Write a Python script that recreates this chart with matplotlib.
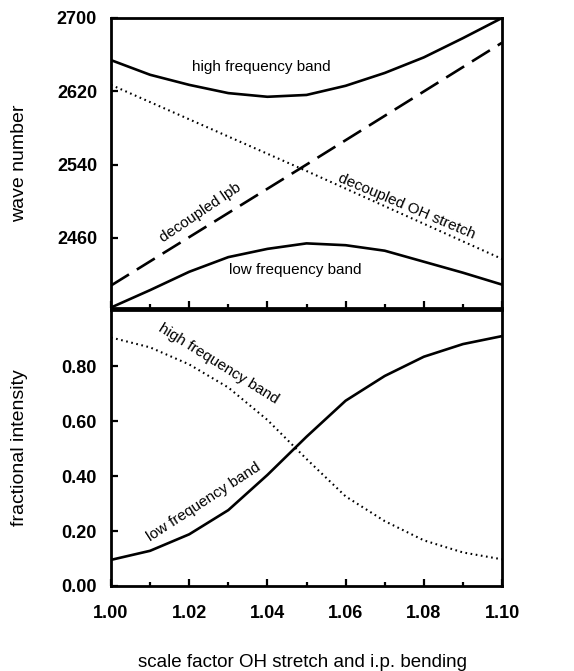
import matplotlib.pyplot as plt
from matplotlib.ticker import MultipleLocator

plt.rcParams['font.family'] = ['Liberation Sans', 'DejaVu Sans']

# scale factor
scale = [1.00, 1.01, 1.02, 1.03, 1.04, 1.05, 1.06, 1.07, 1.08, 1.09, 1.10]

# wave numbers (top panel)
high_band = [2654, 2638, 2627, 2618, 2614, 2616, 2626, 2640, 2657, 2678, 2700]
low_band = [2384, 2403, 2423, 2439, 2448, 2454, 2452, 2446, 2434, 2422, 2409]
lpb_x = [1.00, 1.05, 1.10]
lpb = [2408, 2540, 2673]
oh_x = [1.00, 1.05, 1.10]
oh_stretch = [2627, 2533, 2437]

# fractional intensities (bottom panel)
int_low = [0.095, 0.128, 0.188, 0.276, 0.404, 0.543, 0.674, 0.764, 0.834, 0.880, 0.909]
int_high = [0.904, 0.868, 0.806, 0.722, 0.604, 0.462, 0.326, 0.236, 0.166, 0.122, 0.097]

fig = plt.figure(figsize=(5.74, 6.71), dpi=100)
ax1 = fig.add_axes([0.1934, 0.5417, 0.6812, 0.4315])
ax2 = fig.add_axes([0.1934, 0.1267, 0.6812, 0.4113])

lw = 1.9
dots = (0.8, 1.7)
ax1.plot(scale, high_band, color='black', lw=lw)
ax1.plot(scale, low_band, color='black', lw=lw)
ax1.plot(lpb_x, lpb, color='black', lw=lw, dashes=(8, 3.5))
ax1.plot(oh_x, oh_stretch, color='black', lw=1.5, dashes=dots)

ax2.plot(scale, int_low, color='black', lw=lw)
ax2.plot(scale, int_high, color='black', lw=1.5, dashes=dots)

ax1.set_xlim(1.0, 1.1)
ax1.set_ylim(2384, 2700)
ax2.set_xlim(1.0, 1.1)
ax2.set_ylim(0, 1.004)

ax1.set_yticks([2460, 2540, 2620, 2700])
ax2.set_yticks([0.0, 0.2, 0.4, 0.6, 0.8])
ax2.set_yticklabels(['0.00', '0.20', '0.40', '0.60', '0.80'])

for ax in (ax1, ax2):
    ax.xaxis.set_major_locator(MultipleLocator(0.02))
    ax.xaxis.set_minor_locator(MultipleLocator(0.01))
    ax.tick_params(axis='both', which='both', direction='in', width=1.6,
                   top=False, right=False)
    ax.tick_params(axis='both', which='major', length=5)
    ax.tick_params(axis='x', which='minor', length=3)
    ax.tick_params(axis='y', labelsize=13, pad=10)
    ax.tick_params(axis='x', labelsize=13, pad=14)
    for lbl in ax.get_yticklabels():
        lbl.set_fontweight('bold')
    for sp in ax.spines.values():
        sp.set_linewidth(2)
ax2.set_xticks([1.00, 1.02, 1.04, 1.06, 1.08, 1.10])
ax2.set_xticklabels(['1.00', '1.02', '1.04', '1.06', '1.08', '1.10'], fontweight='bold')
ax1.tick_params(axis='x', labelbottom=False)

ax1.set_ylabel('wave number', fontsize=14)
ax2.set_ylabel('fractional intensity', fontsize=14)
ax2.set_xlabel('scale factor OH stretch and i.p. bending', fontsize=13.5)
ax1.yaxis.set_label_coords(-0.212, 0.5)
ax2.yaxis.set_label_coords(-0.212, 0.5)
ax2.xaxis.set_label_coords(0.489, -0.246)

tkw = dict(fontsize=11, ha='center', va='center')
ax1.text(1.0385, 2646, 'high frequency band', **tkw)
ax1.text(1.0470, 2425, 'low frequency band', **tkw)
ax1.text(1.0228, 2488, 'decoupled lpb', rotation=34, **tkw)
ax1.text(1.0755, 2494, 'decoupled OH stretch', rotation=-23, **tkw)
ax2.text(1.0275, 0.81, 'high frequency band', rotation=-32, **tkw)
ax2.text(1.0237, 0.307, 'low frequency band', rotation=33, **tkw)

fig.savefig('out.png', dpi=100)
